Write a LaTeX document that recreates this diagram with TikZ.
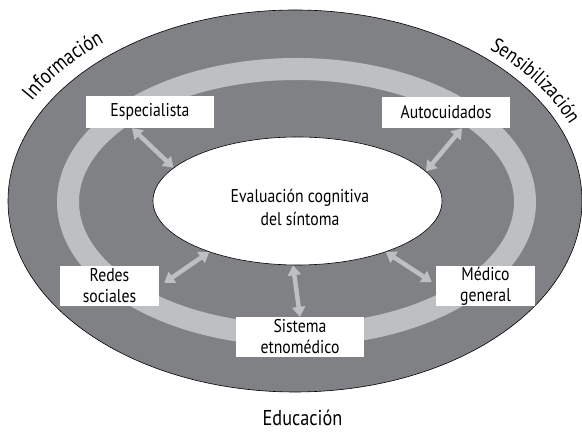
\documentclass[tikz,border=0pt]{standalone}
\usepackage{fontspec}
\setmainfont{PT Sans}[FakeStretch=0.85]
\usetikzlibrary{arrows.meta,shapes.geometric,decorations.text}
\definecolor{bandgray}{RGB}{128,129,133}
\definecolor{ringgray}{RGB}{190,191,195}
\newcommand{\infofont}{\fontsize{21.5}{24}\selectfont}
\newcommand{\sensfont}{\fontsize{20.5}{24}\selectfont}
\begin{document}
\begin{tikzpicture}[x=1pt,y=1pt,
  font=\fontsize{18.5}{21}\selectfont,
  box/.style={fill=white, draw=none, inner sep=0pt, align=center},
  biarrow/.style={draw=ringgray, line width=4.5pt,
    {Triangle[width=13pt,length=10pt]}-{Triangle[width=13pt,length=10pt]}},
  arclabel/.style={decorate, decoration={text along path, text align=center}}]
\useasboundingbox (0,0) rectangle (582,433);

% outer band, inner ring, central ellipse
\draw[fill=bandgray, line width=0.6pt] (295,232) ellipse [x radius=287, y radius=191];
\draw[ringgray, line width=22pt] (296.5,231) ellipse [x radius=228.5, y radius=133];
\node[ellipse, draw, fill=white, line width=0.6pt, inner sep=0pt,
      minimum width=289pt, minimum height=128pt] (eval) at (297.5,232) {};
\node[align=center, font=\fontsize{18.5}{23}\selectfont] (evaltxt) at (300,226) {Evaluación cognitiva\\del síntoma};

% surrounding resources
\node[box, minimum width=128pt, minimum height=32pt] (esp) at (150,321) {Especialista};
\node[box, minimum width=128pt, minimum height=31pt] (auto) at (446,320.5) {Autocuidados};
\node[box, minimum width=99pt, minimum height=40pt] (redes) at (109.5,147) {Redes\\sociales};
\node[box, minimum width=128pt, minimum height=40pt] (sist) at (300,96) {Sistema\\etnomédico};
\node[box, minimum width=99pt, minimum height=40pt] (med) at (485.5,147) {Médico\\general};

% two-way links with the central evaluation
\draw[biarrow] ([xshift=-18pt]esp.south) -- (eval.165);
\draw[biarrow] ([xshift=16pt]auto.south) -- (eval.13);
\draw[biarrow] ([xshift=5pt,yshift=3pt]redes.east) -- (eval.210);
\draw[biarrow] (sist.north) -- (eval.266);
\draw[biarrow] ([xshift=-4pt,yshift=4pt]med.west) -- (eval.330);

% labels around the outer band
\path[arclabel, decoration={text={|\infofont|Información}}]
  (295,232) ++(165:301 and 205) arc[start angle=165, end angle=118, x radius=301, y radius=205];
\path[arclabel, decoration={text={|\sensfont|Sensibilización}}]
  (295,232) ++(61:297 and 201) arc[start angle=61, end angle=7, x radius=297, y radius=201];
\node[font=\fontsize{21.5}{24}\selectfont] (edu) at (302.5,15) {Educación};
\end{tikzpicture}
\end{document}
